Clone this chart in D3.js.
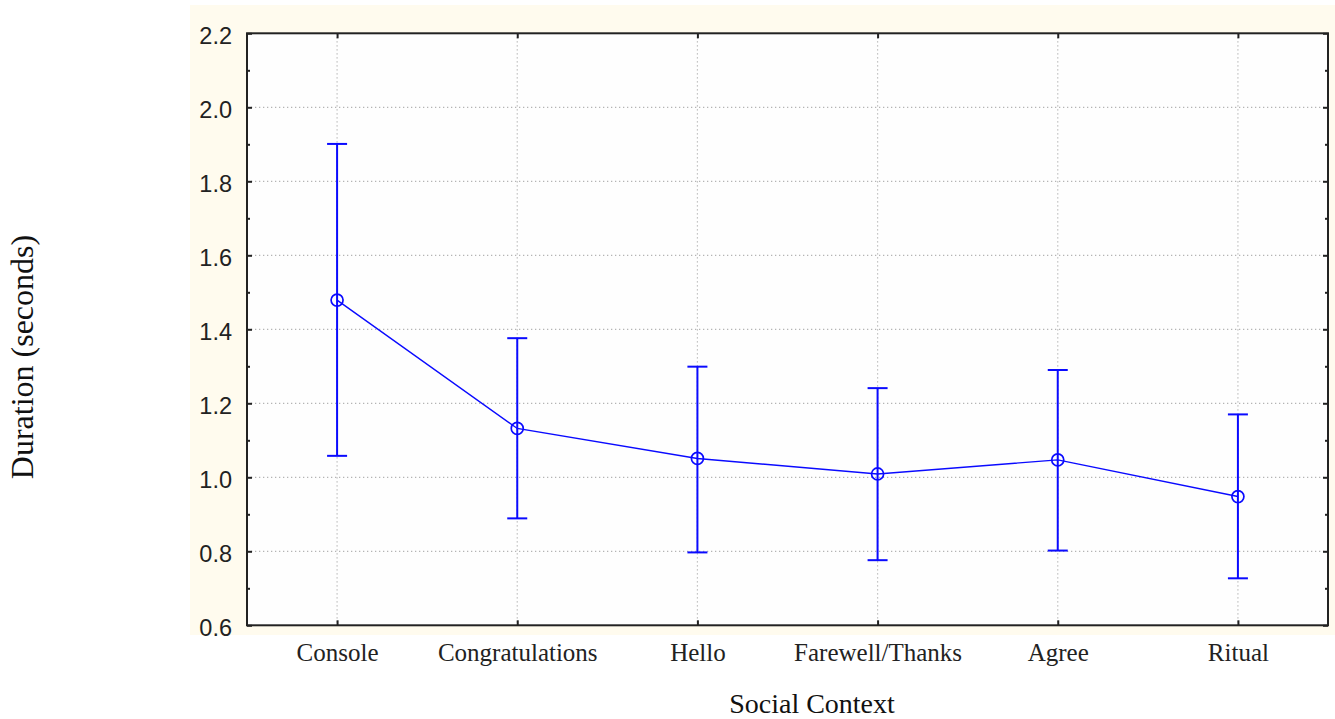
<!DOCTYPE html>
<html>
<head>
<meta charset="utf-8">
<script src="https://cdn.jsdelivr.net/npm/d3@7"></script>
<style>
  html, body { margin: 0; padding: 0; background: #ffffff; }
  svg { display: block; }
</style>
</head>
<body>
<svg id="chart" width="1335" height="719"></svg>
<script>
const categories = ["Console", "Congratulations", "Hello", "Farewell/Thanks", "Agree", "Ritual"];
const means = [1.479, 1.132, 1.051, 1.009, 1.047, 0.948];
const upper = [1.901, 1.376, 1.299, 1.241, 1.290, 1.170];
const lower = [1.058, 0.889, 0.797, 0.776, 0.802, 0.727];
const yTicks = [0.6, 0.8, 1.0, 1.2, 1.4, 1.6, 1.8, 2.0, 2.2];
const yMinorTicks = [0.7, 0.9, 1.1, 1.3, 1.5, 1.7, 1.9, 2.1];
const xTitle = "Social Context";
const yTitle = "Duration (seconds)";

const svg = d3.select("#chart");
const plot = { left: 247, right: 1328, top: 33.3, bottom: 625.3 };

// cream panel
svg.append("rect").attr("x", 190).attr("y", 5).attr("width", 1145).attr("height", 630).attr("fill", "#fffbee");
// plot area
svg.append("rect").attr("x", plot.left).attr("y", plot.top)
  .attr("width", plot.right - plot.left).attr("height", plot.bottom - plot.top).attr("fill", "#fefefe");

const x = d3.scalePoint().domain(categories).range([plot.left, plot.right]).padding(0.5);
const y = d3.scaleLinear().domain([0.6, 2.2]).range([plot.bottom, plot.top]);

// grid
const grid = svg.append("g").attr("stroke", "#b4b4b4").attr("stroke-width", 1.2).attr("stroke-dasharray", "1.3,2.7");
grid.selectAll("line.h").data(yTicks.slice(1, -1)).join("line")
  .attr("x1", plot.left).attr("x2", plot.right).attr("y1", d => y(d)).attr("y2", d => y(d));
grid.selectAll("line.v").data(categories).join("line")
  .attr("x1", d => x(d)).attr("x2", d => x(d)).attr("y1", plot.top).attr("y2", plot.bottom);

// axes
const fontSans = "'Liberation Sans', Arial, sans-serif";
const fontSerif = "'Liberation Serif', 'Times New Roman', serif";

const yAxisL = svg.append("g").attr("transform", `translate(${plot.left},0)`)
  .call(d3.axisLeft(y).tickValues(yTicks).tickSize(-5).tickPadding(15).tickFormat(d3.format(".1f")));
yAxisL.selectAll("text").attr("font-family", fontSans).attr("font-size", 23.5).attr("fill", "#222").attr("dy", "0.42em");
const yAxisLm = svg.append("g").attr("transform", `translate(${plot.left},0)`)
  .call(d3.axisLeft(y).tickValues(yMinorTicks).tickSize(-3).tickFormat(""));
const yAxisR = svg.append("g").attr("transform", `translate(${plot.right},0)`)
  .call(d3.axisRight(y).tickValues(yTicks).tickSize(-5).tickFormat(""));
const yAxisRm = svg.append("g").attr("transform", `translate(${plot.right},0)`)
  .call(d3.axisRight(y).tickValues(yMinorTicks).tickSize(-3).tickFormat(""));
const xAxisB = svg.append("g").attr("transform", `translate(0,${plot.bottom})`)
  .call(d3.axisBottom(x).tickSize(-5).tickPadding(18));
xAxisB.selectAll("text").attr("font-family", fontSerif).attr("font-size", 25).attr("fill", "#222");
const xAxisT = svg.append("g").attr("transform", `translate(0,${plot.top})`)
  .call(d3.axisTop(x).tickSize(-5).tickFormat(""));

[yAxisL, yAxisLm, yAxisR, yAxisRm, xAxisB, xAxisT].forEach(g => {
  g.select(".domain").remove();
  g.selectAll(".tick line").attr("stroke", "#222").attr("stroke-width", 2);
});

// frame
svg.append("rect").attr("x", plot.left).attr("y", plot.top)
  .attr("width", plot.right - plot.left).attr("height", plot.bottom - plot.top)
  .attr("fill", "none").attr("stroke", "#222").attr("stroke-width", 2);

// data
const data = categories.map((c, i) => ({ c, m: means[i], hi: upper[i], lo: lower[i] }));
const blue = "#0a0aff";

svg.append("path").datum(data)
  .attr("fill", "none").attr("stroke", blue).attr("stroke-width", 1.4)
  .attr("d", d3.line().x(d => x(d.c)).y(d => y(d.m)));

const eb = svg.append("g").attr("stroke", blue).attr("stroke-width", 2);
eb.selectAll("line.v").data(data).join("line")
  .attr("x1", d => x(d.c)).attr("x2", d => x(d.c)).attr("y1", d => y(d.hi)).attr("y2", d => y(d.lo));
eb.selectAll("line.hi").data(data).join("line")
  .attr("x1", d => x(d.c) - 10).attr("x2", d => x(d.c) + 10).attr("y1", d => y(d.hi)).attr("y2", d => y(d.hi));
eb.selectAll("line.lo").data(data).join("line")
  .attr("x1", d => x(d.c) - 10).attr("x2", d => x(d.c) + 10).attr("y1", d => y(d.lo)).attr("y2", d => y(d.lo));

svg.append("g").selectAll("circle").data(data).join("circle")
  .attr("cx", d => x(d.c)).attr("cy", d => y(d.m)).attr("r", 6)
  .attr("fill", "none").attr("stroke", blue).attr("stroke-width", 1.7);

// titles
svg.append("text").attr("x", 812).attr("y", 713).attr("text-anchor", "middle")
  .attr("font-family", fontSerif).attr("font-size", 28).attr("fill", "#111").text(xTitle);
svg.append("text").attr("transform", "translate(33,357) rotate(-90)").attr("text-anchor", "middle")
  .attr("font-family", fontSerif).attr("font-size", 32).attr("fill", "#111").text(yTitle);
</script>
</body>
</html>
